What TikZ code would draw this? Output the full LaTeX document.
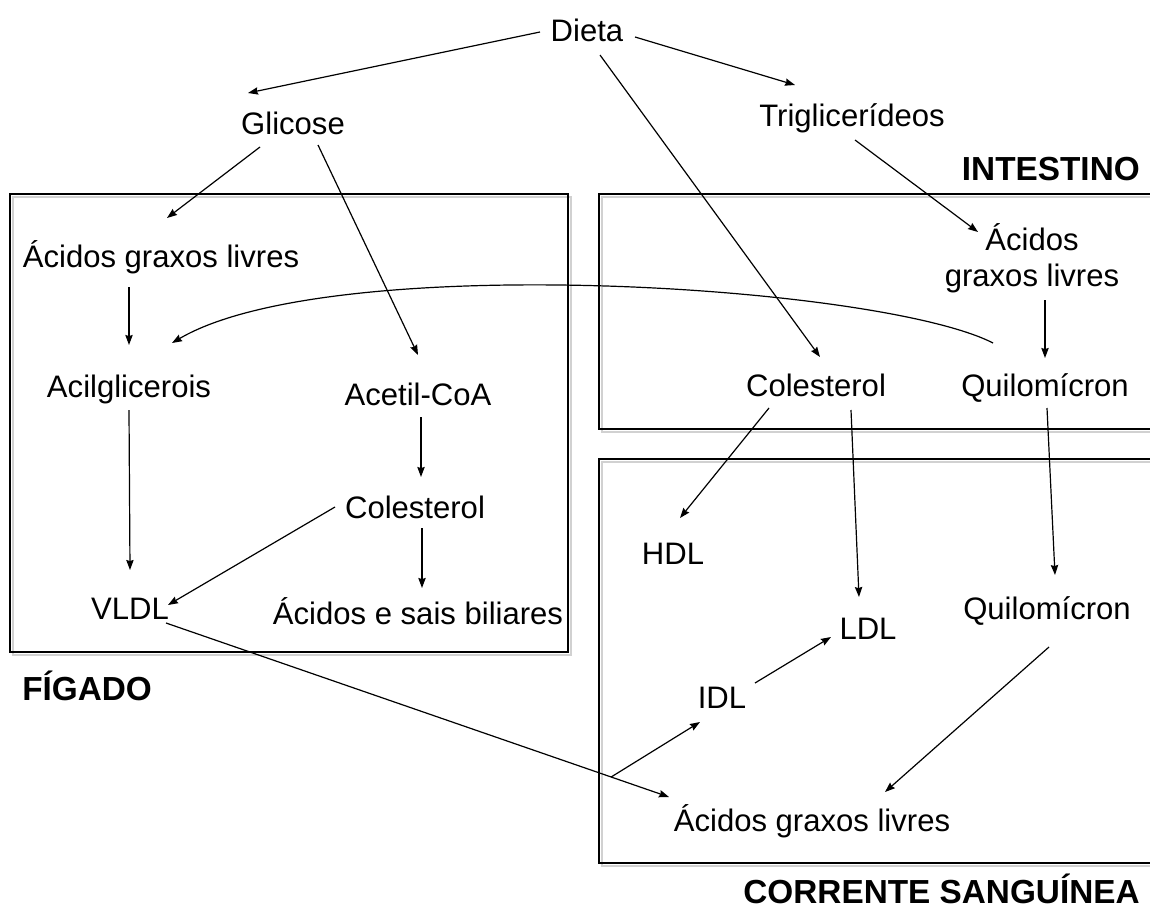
\documentclass[tikz,border=0pt]{standalone}
\usepackage{fontspec}
\setmainfont{Liberation Sans}
\usetikzlibrary{arrows.meta}
\begin{document}
\begin{tikzpicture}[x=0.75pt,y=-0.75pt,
  lbl/.style={inner sep=0pt,font=\fontsize{23.3}{27}\selectfont,text height=16.8pt,text depth=0pt},
  lbl2/.style={inner sep=0pt,font=\fontsize{23.3}{27}\selectfont,align=center},
  title/.style={inner sep=0pt,font=\fontsize{25}{30}\selectfont\bfseries,text height=18pt,text depth=0pt},
  arr/.style={line width=0.9pt,-{Stealth[length=7.5pt,width=5.5pt,inset=0.8pt]}},
  boxline/.style={line width=1.4pt},
  boxshadow/.style={line width=1.8pt,draw=black!18}]
\useasboundingbox (0,0) rectangle (1150,910);
% boxes (shadows first)
\draw[boxshadow] (13,197) rectangle (571,655);
\draw[boxshadow] (1150,197) -- (602,197) -- (602,432) -- (1150,432);
\draw[boxshadow] (1150,462) -- (602,462) -- (602,866) -- (1150,866);
\draw[boxline] (10,194) rectangle (568,652);
\draw[boxline] (1150,194) -- (599,194) -- (599,429) -- (1150,429);
\draw[boxline] (1150,459) -- (599,459) -- (599,863) -- (1150,863);
% nodes
\node[lbl] (dieta) at (587,30) {Dieta};
\node[lbl] (glicose) at (293,123) {Glicose};
\node[lbl] (trig) at (852,115) {Triglicerídeos};
\node[title,anchor=east] (intlabel) at (1140,168) {INTESTINO};
\node[lbl] (aglF) at (161,256) {Ácidos graxos livres};
\node[lbl] (acil) at (129,386) {Acilglicerois};
\node[lbl] (acetil) at (418,394) {Acetil-CoA};
\node[lbl] (colF) at (415,507) {Colesterol};
\node[lbl] (vldl) at (130,608) {VLDL};
\node[lbl] (biliar) at (418,613) {Ácidos e sais biliares};
\node[lbl2] (aglI) at (1032,258) {Ácidos\\graxos livres};
\node[lbl] (colI) at (816,385) {Colesterol};
\node[lbl] (quiI) at (1045,385) {Quilomícron};
\node[lbl] (hdl) at (673,553) {HDL};
\node[lbl] (ldl) at (868,628) {LDL};
\node[lbl] (quiB) at (1047,608) {Quilomícron};
\node[lbl] (idl) at (722,697) {IDL};
\node[lbl] (aglB) at (812,820) {Ácidos graxos livres};
\node[title,anchor=west] (figado) at (22,688) {FÍGADO};
\node[title,anchor=east] (corrente) at (1140,891) {CORRENTE SANGUÍNEA};
% connectors
\draw[arr] ([shift={(-47,2)}]dieta.center) -- ([shift={(-45,-30)}]glicose.center);
\draw[arr] ([shift={(48,7)}]dieta.center) -- ([shift={(-57,-30)}]trig.center);
\draw[arr] ([shift={(13,25)}]dieta.center) -- ([shift={(4,-28)}]colI.center);
\draw[arr] ([shift={(-33,24)}]glicose.center) -- ([shift={(6,-38)}]aglF.center);
\draw[arr] ([shift={(25,22)}]glicose.center) -- ([shift={(0,-39)}]acetil.center);
\draw[arr] ([shift={(3,25)}]trig.center) -- ([shift={(-54,-26)}]aglI.center);
\draw[arr] ([shift={(-32,31)}]aglF.center) -- ([shift={(0,-41)}]acil.center);
\draw[arr] ([shift={(0,24)}]acil.center) -- ([shift={(0,-38)}]vldl.center);
\draw[arr] ([shift={(3,23)}]acetil.center) -- ([shift={(6,-30)}]colF.center);
\draw[arr] ([shift={(7,21)}]colF.center) -- ([shift={(4,-25)}]biliar.center);
\draw[arr] ([shift={(-80,0)}]colF.center) -- ([shift={(38,-3)}]vldl.center);
\draw[arr] ([shift={(36,15)}]vldl.center) -- coordinate[pos=0.885] (branch) ([shift={(-143,-23)}]aglB.center);
\draw[arr] (branch) -- ([shift={(-22,25)}]idl.center);
\draw[arr] ([shift={(33,-14)}]idl.center) -- ([shift={(-37,9)}]ldl.center);
\draw[arr] ([shift={(-47,23)}]colI.center) -- ([shift={(7,-35)}]hdl.center);
\draw[arr] ([shift={(35,25)}]colI.center) -- ([shift={(-9,-31)}]ldl.center);
\draw[arr] ([shift={(2,23)}]quiI.center) -- ([shift={(8,-33)}]quiB.center);
\draw[arr] ([shift={(2,39)}]quiB.center) -- ([shift={(73,-28)}]aglB.center);
\draw[arr] ([shift={(13,42)}]aglI.center) -- ([shift={(0,-27)}]quiI.center);
\draw[arr] ([shift={(-52,-42)}]quiI.center) .. controls (880,285) and (330,250) .. ([shift={(43,-43)}]acil.center);
\end{tikzpicture}
\end{document}
